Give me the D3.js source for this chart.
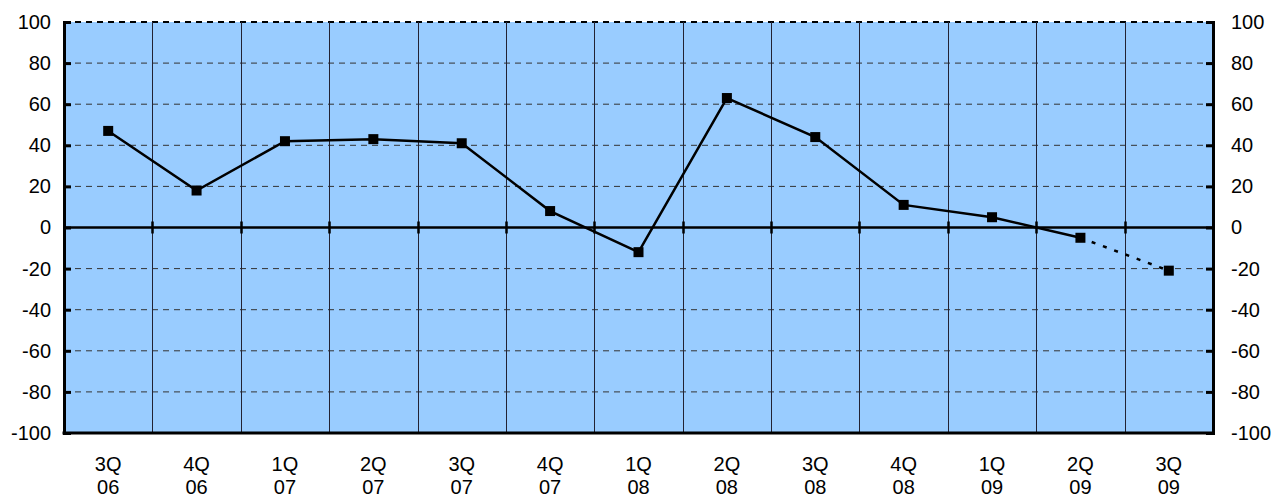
<!DOCTYPE html>
<html><head><meta charset="utf-8">
<script src="https://cdn.jsdelivr.net/npm/d3@7"></script>
<style>body{margin:0;background:#fff}svg{display:block}text{font-family:"Liberation Sans",Arial,sans-serif;fill:#000}</style>
</head><body><svg id="c" width="1284" height="499"></svg>
<script>
const quarters = ["3Q","4Q","1Q","2Q","3Q","4Q","1Q","2Q","3Q","4Q","1Q","2Q","3Q"];
const years = ["06","06","07","07","07","07","08","08","08","08","09","09","09"];
const values = [47,18,42,43,41,8,-12,63,44,11,5,-5,-21];
const yTicks = [-100,-80,-60,-40,-20,0,20,40,60,80,100];
const solidCount = 12; // last segment (2Q09 -> 3Q09) is a forecast, dotted

const W=1284,H=499, L=64,R=1213,T=22,B=433;
const svg=d3.select("#c");
const cats=d3.range(values.length);
const x=d3.scaleBand().domain(cats).range([L,R]).padding(0);
const y=d3.scaleLinear().domain([-100,100]).range([B,T]);
const cx=i=>x(i)+x.bandwidth()/2;

svg.append("rect").attr("x",L).attr("y",T).attr("width",R-L).attr("height",B-T).attr("fill","#99ccff");

// horizontal dashed gridlines
svg.append("g").selectAll("line").data(yTicks.filter(v=>v!==0&&v!==-100)).join("line")
  .attr("x1",L).attr("x2",R).attr("y1",d=>y(d)).attr("y2",d=>y(d))
  .attr("stroke",d=>d===100?"#000":"#333").attr("stroke-width",d=>d===100?2:1).attr("stroke-dasharray","6,5");

// vertical gridlines at category boundaries
svg.append("g").selectAll("line").data(cats.slice(1)).join("line")
  .attr("x1",d=>Math.round(x(d))+0.5).attr("x2",d=>Math.round(x(d))+0.5).attr("y1",T).attr("y2",B)
  .attr("stroke","#223").attr("stroke-width",1);

// zero line with small ticks
svg.append("line").attr("x1",L).attr("x2",R).attr("y1",y(0)).attr("y2",y(0)).attr("stroke","#000").attr("stroke-width",2.5);
svg.append("g").selectAll("line").data(cats.slice(1)).join("line")
  .attr("x1",d=>Math.round(x(d))+0.5).attr("x2",d=>Math.round(x(d))+0.5).attr("y1",y(0)-6).attr("y2",y(0)+6)
  .attr("stroke","#000").attr("stroke-width",2.5);

// axes
const fmt=d=>String(d);
const yl=d3.axisLeft(y).tickValues(yTicks).tickFormat(fmt).tickSize(-7).tickPadding(14);
const yr=d3.axisRight(y).tickValues(yTicks).tickFormat(fmt).tickSize(-7).tickPadding(14);
const gl=svg.append("g").attr("transform",`translate(${L},0)`).call(yl);
const gr=svg.append("g").attr("transform",`translate(${R},0)`).call(yr);
[gl,gr].forEach(g=>{
  g.attr("font-size",null).attr("font-family",null);
  g.select(".domain").attr("stroke","#000").attr("stroke-width",3);
  g.selectAll(".tick line").attr("stroke","#000").attr("stroke-width",3);
  g.selectAll(".tick text").style("font-size","20px").attr("fill","#000");
});
gl.selectAll(".tick text").attr("x",-13);
gr.selectAll(".tick text").attr("x",18);
svg.append("line").attr("x1",L-1.5).attr("x2",R+1.5).attr("y1",B).attr("y2",B).attr("stroke","#000").attr("stroke-width",3);

// x labels
const xl=svg.append("g").selectAll("text").data(cats).join("text")
  .attr("x",d=>cx(d)).attr("text-anchor","middle").style("font-size","20px");
xl.append("tspan").attr("x",d=>cx(d)).attr("y",471).text(d=>quarters[d]);
xl.append("tspan").attr("x",d=>cx(d)).attr("y",494).text(d=>years[d]);

// line
const line=d3.line().x(d=>cx(d)).y(d=>y(values[d]));
svg.append("path").datum(cats.slice(0,solidCount)).attr("d",line).attr("fill","none").attr("stroke","#000").attr("stroke-width",2.5);
svg.append("path").datum(cats.slice(solidCount-1)).attr("d",line).attr("fill","none").attr("stroke","#000").attr("stroke-width",2.5).attr("stroke-dasharray","4,8");

svg.append("g").selectAll("rect").data(cats).join("rect")
  .attr("x",d=>cx(d)-5).attr("y",d=>y(values[d])-5).attr("width",10).attr("height",10).attr("fill","#000");
</script></body></html>
